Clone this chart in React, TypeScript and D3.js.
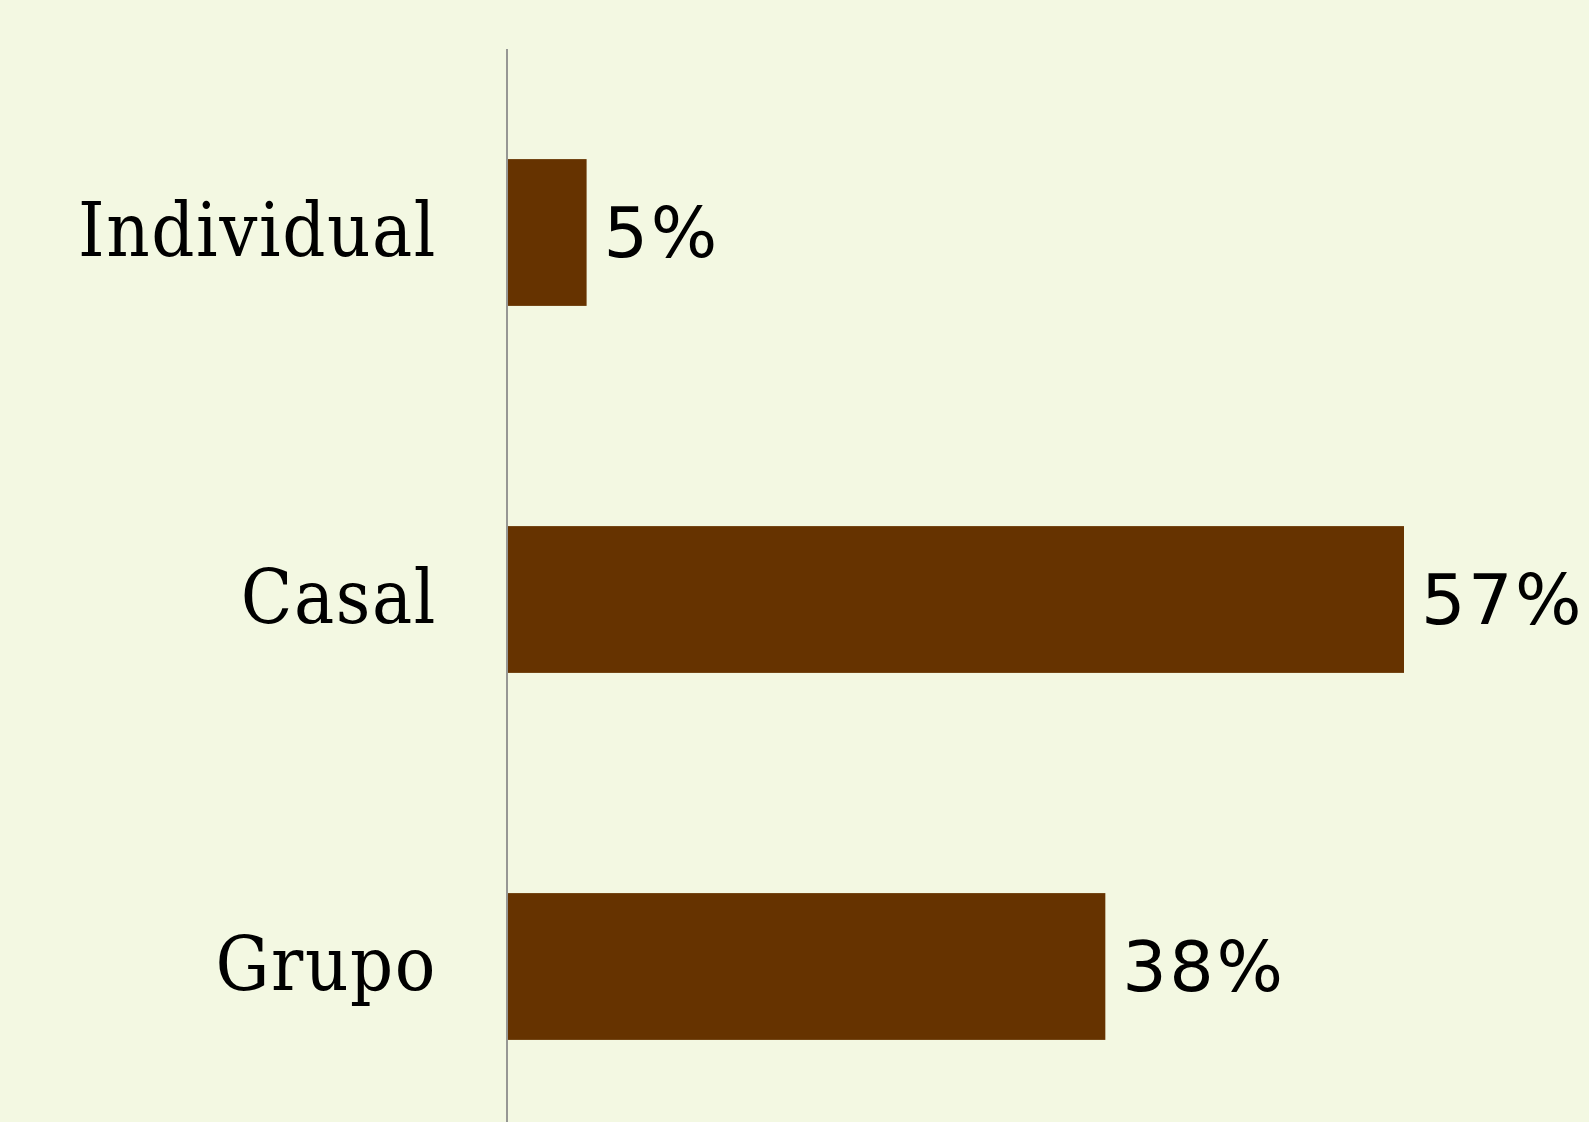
import React from "react";
import * as d3 from "d3";

const categories = ["Individual", "Casal", "Grupo"];
const values = [5, 57, 38];
const valueLabels = ["5%", "57%", "38%"];

const W = 1589;
const H = 1122;

export default function App() {
  const x = d3.scaleLinear().domain([0, 57]).range([508, 1404]);
  const y = d3
    .scaleBand<string>()
    .domain(categories)
    .range([49, 1150])
    .paddingInner(0.6)
    .paddingOuter(0.3);
  const bw = y.bandwidth();
  return (
    <svg
      width={W}
      height={H}
      style={{ position: "absolute", left: 0, top: 0, display: "block" }}
    >
      <rect x={0} y={0} width={W} height={H} fill="#f3f8e2" />
      {categories.map((c, i) => (
        <g key={c}>
          <rect
            x={x(0)}
            y={y(c)}
            width={x(values[i]) - x(0)}
            height={bw}
            fill="#663300"
          />
          <text
            x={437}
            y={(y(c) as number) + bw / 2 + 23}
            textAnchor="end"
            fontFamily="'DejaVu Serif Condensed', 'DejaVu Serif', serif"
            fontStretch="condensed"
            fontSize={75}
            letterSpacing={1.6}
            fill="#000"
          >
            {c}
          </text>
          <text
            x={x(values[i]) + 17}
            y={(y(c) as number) + bw / 2 + 24}
            fontFamily="'DejaVu Sans', sans-serif"
            fontSize={70}
            letterSpacing={2.5}
            fill="#000"
          >
            {valueLabels[i]}
          </text>
        </g>
      ))}
      <line x1={507} x2={507} y1={49} y2={H} stroke="#8c8c8c" strokeWidth={1.8} />
    </svg>
  );
}
